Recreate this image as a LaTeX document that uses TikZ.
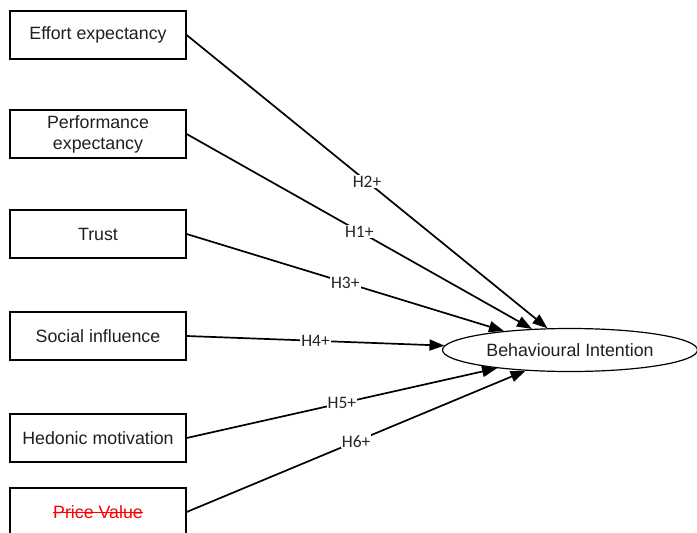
\documentclass[tikz,border=0pt]{standalone}
\usepackage{fontspec}
\setmainfont{Liberation Sans}
\newfontfamily\hypfont{Carlito}
\usetikzlibrary{arrows.meta,shapes.geometric}

\begin{document}
\begin{tikzpicture}[x=1pt,y=-1pt,
  factor/.style={draw, line width=1.3pt, minimum width=176pt, minimum height=48pt,
    inner sep=0pt, align=center, text=black!88, font=\fontsize{17.8}{21}\selectfont},
  outcome/.style={draw, ellipse, line width=1.2pt, minimum width=255pt, minimum height=43pt,
    inner sep=0pt, text=black!88, font=\fontsize{17.8}{21}\selectfont},
  path/.style={line width=1.7pt, -{Triangle[length=15pt,width=11pt]}},
  hyp/.style={midway, fill=white, inner sep=1pt, text=black!85, font=\hypfont\fontsize{17.5}{19}\selectfont}]
\useasboundingbox (0,0) rectangle (697,533);

% predictor constructs
\node[factor] (ee) at (98,35)  {Effort expectancy};
\node[factor] (pe) at (98,134) {Performance\\expectancy};
\node[factor] (tr) at (98,234) {Trust};
\node[factor] (si) at (98,336) {Social influence};
\node[factor] (hm) at (98,438) {Hedonic motivation};
\node[factor] (pv) at (98,512) {};
% struck-out construct label
\node[inner sep=0pt, text=red, font=\fontsize{17.8}{21}\selectfont] (pvt) at (pv.center) {Price Value};
\draw[red, line width=1pt] ([yshift=5.5pt]pvt.base west) -- ([yshift=5.5pt]pvt.base east);

% dependent construct
\node[outcome] (bi) at (570,350) {Behavioural Intention};

% hypothesised paths
\draw[path] (ee.east) -- (bi.136) node[hyp] {H2+};
\draw[path] (pe.east) -- (bi.151) node[hyp] {H1+};
\draw[path] (tr.east) -- (bi.164) node[hyp] {H3+};
\draw[path] (si.east) -- (bi.178) node[hyp] {H4+};
\draw[path] (hm.east) -- (bi.194) node[hyp] {H5+};
\draw[path] (pv.east) -- (bi.205) node[hyp] {H6+};
\end{tikzpicture}
\end{document}
